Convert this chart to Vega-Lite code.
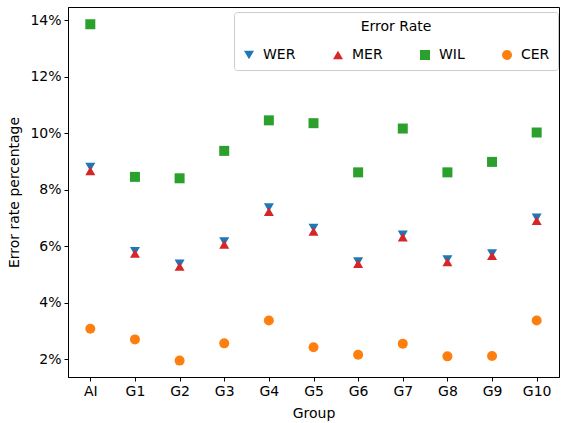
{
  "$schema": "https://vega.github.io/schema/vega-lite/v6.json",
  "width": 491,
  "height": 370,
  "autosize": {"type": "none"},
  "padding": {"left": 68, "top": 7, "right": 2, "bottom": 46},
  "background": "white",
  "config": {
    "font": "DejaVu Sans",
    "view": {"stroke": "black", "strokeWidth": 1},
    "axis": {
      "grid": false,
      "domainColor": "black",
      "tickColor": "black",
      "labelColor": "black",
      "titleColor": "black",
      "labelFontSize": 14,
      "titleFontSize": 14,
      "titleFontWeight": "normal",
      "tickSize": 4,
      "labelPadding": 3
    },
    "legend": {
      "titleFontSize": 14,
      "titleFontWeight": "normal",
      "titleColor": "black",
      "labelFontSize": 14,
      "labelColor": "black"
    }
  },
  "data": {
    "values": [
      {"group": "AI", "metric": "WER", "value": 8.80},
      {"group": "G1", "metric": "WER", "value": 5.82},
      {"group": "G2", "metric": "WER", "value": 5.37},
      {"group": "G3", "metric": "WER", "value": 6.16},
      {"group": "G4", "metric": "WER", "value": 7.36},
      {"group": "G5", "metric": "WER", "value": 6.64},
      {"group": "G6", "metric": "WER", "value": 5.45},
      {"group": "G7", "metric": "WER", "value": 6.40},
      {"group": "G8", "metric": "WER", "value": 5.52},
      {"group": "G9", "metric": "WER", "value": 5.74},
      {"group": "G10", "metric": "WER", "value": 7.00},
      {"group": "AI", "metric": "MER", "value": 8.66},
      {"group": "G1", "metric": "MER", "value": 5.74},
      {"group": "G2", "metric": "MER", "value": 5.28},
      {"group": "G3", "metric": "MER", "value": 6.06},
      {"group": "G4", "metric": "MER", "value": 7.22},
      {"group": "G5", "metric": "MER", "value": 6.52},
      {"group": "G6", "metric": "MER", "value": 5.38},
      {"group": "G7", "metric": "MER", "value": 6.32},
      {"group": "G8", "metric": "MER", "value": 5.44},
      {"group": "G9", "metric": "MER", "value": 5.66},
      {"group": "G10", "metric": "MER", "value": 6.90},
      {"group": "AI", "metric": "WIL", "value": 13.85},
      {"group": "G1", "metric": "WIL", "value": 8.45},
      {"group": "G2", "metric": "WIL", "value": 8.40},
      {"group": "G3", "metric": "WIL", "value": 9.37},
      {"group": "G4", "metric": "WIL", "value": 10.45},
      {"group": "G5", "metric": "WIL", "value": 10.35},
      {"group": "G6", "metric": "WIL", "value": 8.61},
      {"group": "G7", "metric": "WIL", "value": 10.16},
      {"group": "G8", "metric": "WIL", "value": 8.61},
      {"group": "G9", "metric": "WIL", "value": 8.98},
      {"group": "G10", "metric": "WIL", "value": 10.02},
      {"group": "AI", "metric": "CER", "value": 3.08},
      {"group": "G1", "metric": "CER", "value": 2.70},
      {"group": "G2", "metric": "CER", "value": 1.95},
      {"group": "G3", "metric": "CER", "value": 2.56},
      {"group": "G4", "metric": "CER", "value": 3.37},
      {"group": "G5", "metric": "CER", "value": 2.42},
      {"group": "G6", "metric": "CER", "value": 2.16},
      {"group": "G7", "metric": "CER", "value": 2.55},
      {"group": "G8", "metric": "CER", "value": 2.10},
      {"group": "G9", "metric": "CER", "value": 2.11},
      {"group": "G10", "metric": "CER", "value": 3.37}
    ]
  },
  "mark": {"type": "point", "filled": true, "opacity": 1, "size": 100},
  "encoding": {
    "x": {
      "field": "group",
      "type": "nominal",
      "sort": null,
      "scale": {"type": "point", "padding": 0.5},
      "axis": {"title": "Group", "labelAngle": 0, "titleY": 36, "titleBaseline": "middle"}
    },
    "y": {
      "field": "value",
      "type": "quantitative",
      "scale": {"domain": [1.37, 14.46], "nice": false, "zero": false},
      "axis": {
        "title": "Error rate percentage",
        "values": [2, 4, 6, 8, 10, 12, 14],
        "labelExpr": "datum.value + '%'",
        "titleX": -54,
        "titleY": 185,
        "titleAngle": 270,
        "titleAlign": "center",
        "titleBaseline": "middle"
      }
    },
    "color": {
      "field": "metric",
      "type": "nominal",
      "sort": null,
      "scale": {"domain": ["WER", "MER", "WIL", "CER"], "range": ["#1f77b4", "#d62728", "#2ca02c", "#ff7f0e"]},
      "legend": {
        "title": "Error Rate",
        "orient": "none",
        "legendX": 166,
        "legendY": 5,
        "direction": "horizontal",
        "columns": 4,
        "columnPadding": 35,
        "titleAnchor": "middle",
        "titlePadding": 14,
        "padding": 8,
        "strokeColor": "#cccccc",
        "fillColor": "white",
        "cornerRadius": 3,
        "symbolSize": 100,
        "labelOffset": 7
      }
    },
    "shape": {
      "field": "metric",
      "type": "nominal",
      "sort": null,
      "scale": {"domain": ["WER", "MER", "WIL", "CER"], "range": ["triangle-down", "triangle-up", "square", "circle"]},
      "legend": {"title": "Error Rate"}
    }
  }
}
